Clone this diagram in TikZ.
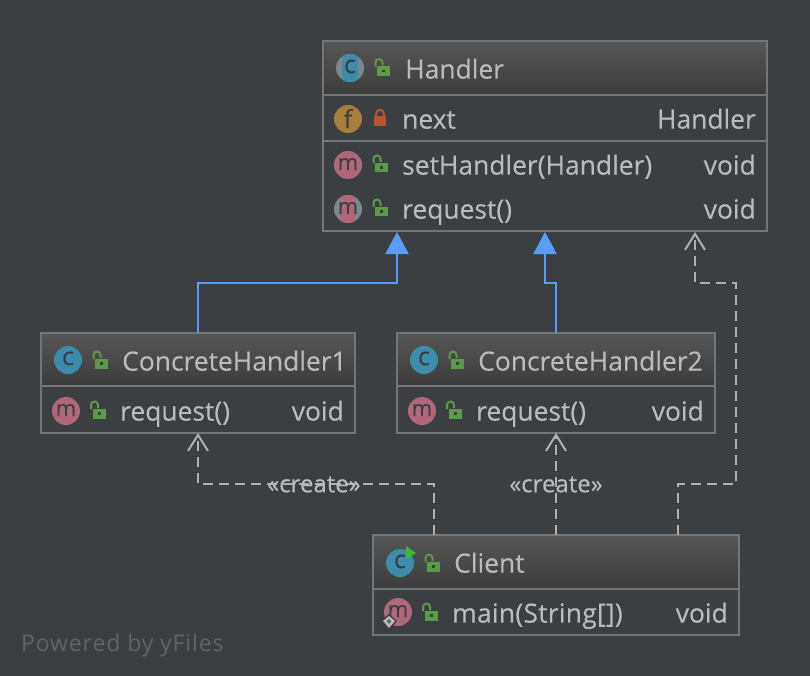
\documentclass[tikz,border=0pt]{standalone}
\usepackage{fontspec}
\setmainfont[FakeBold=0.2]{Open Sans}
\newfontfamily\plainopen{Open Sans}
\usetikzlibrary{arrows.meta}
\definecolor{bgc}{HTML}{3C3F41}
\definecolor{headtop}{HTML}{565656}
\definecolor{headbot}{HTML}{3C3C3C}
\definecolor{edge}{HTML}{757575}
\definecolor{txt}{HTML}{BBBBBB}
\definecolor{bluel}{HTML}{589DF6}
\definecolor{dep}{HTML}{B0B0B0}
\definecolor{teal}{HTML}{3E8CAB}
\definecolor{rose}{HTML}{B0677A}
\definecolor{ochre}{HTML}{A87F3A}
\definecolor{iconink}{HTML}{3A3F45}
\definecolor{greyring}{HTML}{7C8791}
\definecolor{lockg}{HTML}{5A9A48}
\definecolor{lockr}{HTML}{B5562F}
\definecolor{wmark}{HTML}{606365}
\newcommand{\fsize}{\fontsize{26.4}{30}\selectfont}
\newcommand{\csize}{\fontsize{25}{26}\selectfont}
\newcommand{\isize}{\fontsize{22}{24}\selectfont}
\tikzset{
  x=1pt,y=-1pt,
  umlbox/.style={draw=edge,line width=2pt,inner sep=0pt,outer sep=0pt,anchor=north west},
  divider/.style={draw=edge,line width=2pt},
  lbl/.style={text=txt,font=\fsize,inner sep=0pt,anchor=base west},
  rlbl/.style={text=txt,font=\fsize,inner sep=0pt,anchor=base east},
  ico/.style={text=iconink,font=\isize,inner sep=0pt,anchor=center},
  icoc/.style={text=iconink,font=\csize,inner sep=0pt,anchor=center},
  inherit/.style={draw=bluel,line width=2pt,-{Triangle[width=23pt,length=22pt,fill=bluel]}},
  depend/.style={draw=dep,line width=2.2pt,dash pattern=on 10pt off 6pt,-{Straight Barb[width=20pt,length=16pt,line width=2pt]}},
  stereo/.style={text=txt,font=\fontsize{24}{26}\selectfont,inner sep=0pt,anchor=center},
  openlock/.pic={
    \fill[lockg] (-6.5,-1) rectangle (6.5,8.5);
    \fill[bgc] (-1.5,2.2) rectangle (1.5,4.6);
    \draw[lockg,line width=2pt] (-8,-1) -- (-8,-5) arc[start angle=180,end angle=0,x radius=3.5,y radius=-3.5] -- (-1,-2);
  },
  shutlock/.pic={
    \fill[lockr] (-6,-2) rectangle (6,8);
    \draw[lockr,line width=2pt] (-3.8,-2) -- (-3.8,-4.5) arc[start angle=180,end angle=0,x radius=3.8,y radius=-3.8] -- (3.8,-2);
  },
}
\begin{document}
\begin{tikzpicture}
\useasboundingbox[fill=bgc] (0,0) rectangle (810,676);

% header shading
\fill[top color=headtop,bottom color=headbot] (323,41) rectangle (767,95);
\fill[top color=headtop,bottom color=headbot] (41,333) rectangle (355,386);
\fill[top color=headtop,bottom color=headbot] (397,333) rectangle (715,386);
\fill[top color=headtop,bottom color=headbot] (373,535) rectangle (739,589);

% boxes
\node[umlbox,minimum width=444pt,minimum height=190pt] (handler) at (323,41) {};
\node[umlbox,minimum width=314pt,minimum height=100pt] (chone) at (41,333) {};
\node[umlbox,minimum width=318pt,minimum height=100pt] (chtwo) at (397,333) {};
\node[umlbox,minimum width=366pt,minimum height=100pt] (client) at (373,535) {};

% dividers
\draw[divider] (323,95) -- (767,95);
\draw[divider] (323,141) -- (767,141);
\draw[divider] (41,386) -- (355,386);
\draw[divider] (397,386) -- (715,386);
\draw[divider] (373,589) -- (739,589);

% icons: Handler
\fill[greyring] (350,68) circle (14);
\begin{scope}\clip (350,68) circle (14);\fill[teal] (342,54) rectangle (358,82);\end{scope}
\node[icoc] (icH) at (350,66.5) {c};
\fill[ochre] (348,119) circle (14);
\node[icoc] (icF) at (348,118.5) {f};
\fill[rose] (348,165) circle (14);
\node[ico] (icS) at (348,164) {m};
\fill[greyring] (348,209) circle (14);
\begin{scope}\clip (348,209) circle (14);\fill[rose] (340,195) rectangle (356,223);\end{scope}
\node[ico] (icR) at (348,208) {m};

% icons: ConcreteHandler1
\fill[teal] (68,360) circle (14);
\node[icoc] (icA) at (68,358.5) {c};
\fill[rose] (66,411) circle (14);
\node[ico] (icB) at (66,410) {m};
% icons: ConcreteHandler2
\fill[teal] (424,360) circle (14);
\node[icoc] (icC) at (424,358.5) {c};
\fill[rose] (422,411) circle (14);
\node[ico] (icD) at (422,410) {m};
% icons: Client
\fill[teal] (400,563) circle (14);
\node[icoc] (icE) at (400,561.5) {c};
\fill[lockg!70!green] (406,546) -- (416,553) -- (406,559) -- cycle;
\fill[rose] (398,612) circle (14);
\node[ico] (icG) at (398,611) {m};
\fill[bgc] (389,614) -- (397,621) -- (389,630) -- (381,621) -- cycle;
\fill[txt] (389,616) -- (395,621) -- (389,628) -- (383,621) -- cycle;
\fill[bgc!70!txt] (389,619) -- (391.5,621) -- (389,624) -- (386.5,621) -- cycle;

% visibility locks
\pic at (383.5,67.5) {openlock};
\pic at (380,118) {shutlock};
\pic at (381.5,164) {openlock};
\pic at (381.5,208) {openlock};
\pic at (101.5,360) {openlock};
\pic at (99,410) {openlock};
\pic at (457.5,360) {openlock};
\pic at (455,410) {openlock};
\pic at (433.5,563) {openlock};
\pic at (431,612) {openlock};

% texts
\node[lbl] (tHandler) at (405,78.6) {Handler};
\node[lbl] (tNext) at (402,128.6) {next};
\node[rlbl] (tNextT) at (756,128.6) {Handler};
\node[lbl] (tSet) at (402,174.6) {setHandler(Handler)};
\node[rlbl] (tSetT) at (756,174.6) {void};
\node[lbl] (tReq) at (402,218.6) {request()};
\node[rlbl] (tReqT) at (756,218.6) {void};
\node[lbl] (tCH1) at (122,370.6) {ConcreteHandler1};
\node[lbl] (tCH1m) at (120,420.6) {request()};
\node[rlbl] (tCH1t) at (344,420.6) {void};
\node[lbl] (tCH2) at (478,370.6) {ConcreteHandler2};
\node[lbl] (tCH2m) at (476,420.6) {request()};
\node[rlbl] (tCH2t) at (704,420.6) {void};
\node[lbl] (tCl) at (454,572.6) {Client};
\node[lbl] (tClm) at (452,622.6) {\addfontfeature{LetterSpace=1}main(String[])};
\node[rlbl] (tClt) at (728,622.6) {void};

% connector end points
\coordinate (hA) at (397,232);
\coordinate (hB) at (545,232);
\coordinate (hC) at (695,232);
\coordinate (cA) at (434,535);
\coordinate (cC) at (678,535);
\coordinate (oneIn) at (198,433);
\coordinate (twoIn) at (556,433);

% inheritance
\draw[inherit] (chone.north) -- (198,283) -- (397,283) -- (hA);
\draw[inherit] (chtwo.north) -- (556,283) -- (545,283) -- (hB);

% dependencies
\draw[depend] (cA) -- (434,484) -- (198,484) -- (oneIn);
\draw[depend] (client.north) -- (twoIn);
\draw[depend] (cC) -- (678,484) -- (736,484) -- (736,283) -- (695,283) -- (hC);

\node[stereo] (lblA) at (314,484.5) {«create»};
\node[stereo] (lblB) at (556,484.5) {«create»};

% watermark
\node[text=wmark,inner sep=0pt,anchor=base west] (wm) at (21,651) {\plainopen\fontsize{23}{26}\selectfont\addfontfeature{LetterSpace=3.8}Powered by yFiles};
\end{tikzpicture}
\end{document}
